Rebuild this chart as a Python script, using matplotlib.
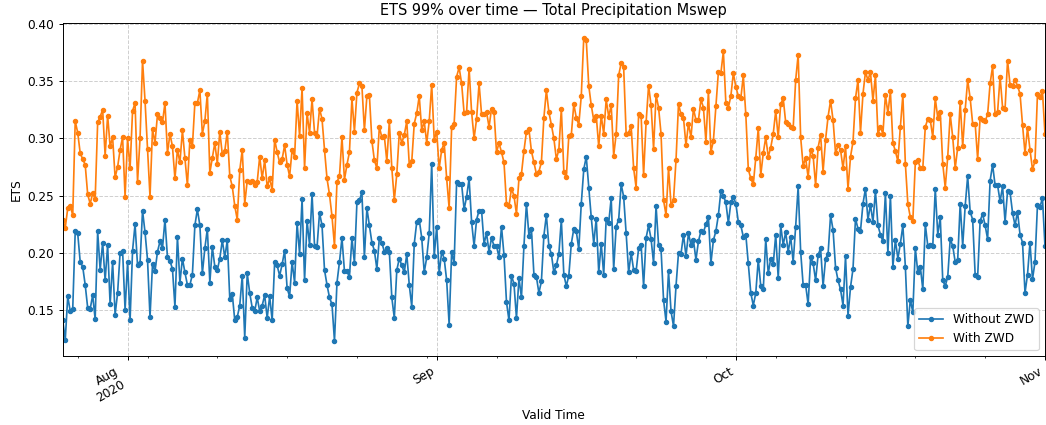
import numpy as np
import pandas as pd
import matplotlib
matplotlib.use("Agg")
import matplotlib.pyplot as plt
import matplotlib.dates as mdates

# 6-hourly valid times, 25 Jul 2020 12Z -> 1 Nov 2020 00Z
start_time = "2020-07-25 12:00"
n_times = 395

month_ticks = ["2020-08-01", "2020-09-01", "2020-10-01", "2020-11-01"]
month_labels = ["Aug\n2020", "Sep", "Oct", "Nov"]

# ETS 99% with ZWD (orange)
ets_with_zwd = [
    0.229, 0.222, 0.239, 0.241, 0.233, 0.315, 0.305, 0.287, 0.282, 0.277,
    0.251, 0.243, 0.252, 0.247, 0.314, 0.319, 0.325, 0.285, 0.320, 0.293,
    0.301, 0.266, 0.275, 0.290, 0.301, 0.249, 0.300, 0.274, 0.324, 0.331,
    0.262, 0.300, 0.368, 0.333, 0.291, 0.249, 0.308, 0.296, 0.321, 0.318,
    0.314, 0.331, 0.287, 0.304, 0.293, 0.265, 0.290, 0.279, 0.307, 0.283,
    0.259, 0.299, 0.293, 0.331, 0.331, 0.342, 0.304, 0.315, 0.339, 0.270,
    0.283, 0.296, 0.278, 0.306, 0.286, 0.289, 0.306, 0.267, 0.258, 0.241,
    0.229, 0.272, 0.290, 0.243, 0.263, 0.262, 0.263, 0.259, 0.262, 0.284,
    0.265, 0.281, 0.258, 0.265, 0.255, 0.299, 0.288, 0.279, 0.282, 0.294,
    0.277, 0.267, 0.290, 0.284, 0.333, 0.302, 0.344, 0.274, 0.322, 0.305,
    0.334, 0.305, 0.302, 0.326, 0.317, 0.290, 0.265, 0.251, 0.232, 0.206,
    0.262, 0.267, 0.301, 0.264, 0.277, 0.288, 0.335, 0.306, 0.340, 0.348,
    0.346, 0.307, 0.337, 0.338, 0.298, 0.281, 0.274, 0.310, 0.301, 0.302,
    0.280, 0.315, 0.274, 0.246, 0.269, 0.305, 0.296, 0.303, 0.315, 0.277,
    0.280, 0.313, 0.322, 0.337, 0.307, 0.315, 0.296, 0.315, 0.347, 0.299,
    0.306, 0.274, 0.290, 0.296, 0.265, 0.239, 0.310, 0.313, 0.354, 0.362,
    0.348, 0.322, 0.323, 0.361, 0.323, 0.300, 0.317, 0.348, 0.321, 0.321,
    0.323, 0.310, 0.326, 0.323, 0.288, 0.296, 0.288, 0.279, 0.243, 0.241,
    0.256, 0.250, 0.234, 0.265, 0.269, 0.289, 0.306, 0.308, 0.289, 0.279,
    0.269, 0.271, 0.279, 0.318, 0.342, 0.323, 0.312, 0.300, 0.282, 0.290,
    0.326, 0.271, 0.266, 0.302, 0.303, 0.330, 0.318, 0.312, 0.337, 0.388,
    0.386, 0.346, 0.329, 0.316, 0.320, 0.293, 0.320, 0.304, 0.334, 0.319,
    0.329, 0.285, 0.304, 0.355, 0.366, 0.362, 0.304, 0.305, 0.311, 0.274,
    0.257, 0.321, 0.320, 0.268, 0.314, 0.346, 0.329, 0.291, 0.338, 0.327,
    0.304, 0.246, 0.233, 0.274, 0.242, 0.246, 0.281, 0.330, 0.321, 0.318,
    0.294, 0.313, 0.301, 0.326, 0.316, 0.316, 0.334, 0.327, 0.297, 0.341,
    0.288, 0.298, 0.328, 0.358, 0.357, 0.376, 0.331, 0.327, 0.337, 0.357,
    0.345, 0.337, 0.335, 0.355, 0.321, 0.273, 0.265, 0.260, 0.283, 0.309,
    0.268, 0.287, 0.301, 0.284, 0.292, 0.304, 0.324, 0.301, 0.330, 0.335,
    0.314, 0.313, 0.310, 0.309, 0.351, 0.373, 0.301, 0.276, 0.283, 0.266,
    0.290, 0.285, 0.259, 0.292, 0.303, 0.271, 0.299, 0.319, 0.333, 0.316,
    0.287, 0.294, 0.290, 0.274, 0.293, 0.256, 0.284, 0.297, 0.335, 0.351,
    0.305, 0.339, 0.358, 0.351, 0.358, 0.333, 0.355, 0.304, 0.310, 0.304,
    0.338, 0.322, 0.341, 0.296, 0.289, 0.280, 0.310, 0.338, 0.278, 0.243,
    0.231, 0.228, 0.279, 0.281, 0.274, 0.274, 0.310, 0.317, 0.316, 0.301,
    0.335, 0.318, 0.323, 0.278, 0.257, 0.284, 0.321, 0.301, 0.274, 0.292,
    0.332, 0.293, 0.325, 0.351, 0.335, 0.313, 0.313, 0.282, 0.318, 0.316,
    0.315, 0.321, 0.348, 0.363, 0.321, 0.323, 0.354, 0.327, 0.326, 0.368,
    0.347, 0.346, 0.351, 0.346, 0.339, 0.312, 0.287, 0.309, 0.290, 0.273,
    0.280, 0.339, 0.336, 0.341, 0.304,
]

# ETS 99% without ZWD (blue)
ets_without_zwd = [
    0.141, 0.124, 0.162, 0.149, 0.151, 0.219, 0.217, 0.192, 0.188, 0.172,
    0.152, 0.151, 0.163, 0.142, 0.219, 0.185, 0.209, 0.176, 0.207, 0.155,
    0.192, 0.146, 0.165, 0.200, 0.202, 0.150, 0.192, 0.141, 0.202, 0.225,
    0.189, 0.191, 0.237, 0.218, 0.194, 0.144, 0.190, 0.184, 0.201, 0.210,
    0.204, 0.229, 0.196, 0.193, 0.186, 0.153, 0.214, 0.174, 0.195, 0.183,
    0.172, 0.172, 0.181, 0.224, 0.238, 0.224, 0.182, 0.204, 0.221, 0.174,
    0.205, 0.188, 0.185, 0.195, 0.211, 0.196, 0.211, 0.160, 0.164, 0.141,
    0.144, 0.154, 0.180, 0.126, 0.182, 0.165, 0.152, 0.149, 0.161, 0.149,
    0.154, 0.163, 0.143, 0.162, 0.141, 0.192, 0.189, 0.180, 0.190, 0.202,
    0.169, 0.162, 0.192, 0.174, 0.226, 0.199, 0.247, 0.176, 0.228, 0.207,
    0.251, 0.206, 0.205, 0.235, 0.224, 0.185, 0.172, 0.161, 0.155, 0.123,
    0.174, 0.192, 0.213, 0.184, 0.184, 0.179, 0.213, 0.191, 0.244, 0.246,
    0.253, 0.196, 0.239, 0.224, 0.209, 0.202, 0.186, 0.213, 0.209, 0.201,
    0.204, 0.201, 0.161, 0.143, 0.185, 0.195, 0.189, 0.183, 0.199, 0.172,
    0.153, 0.208, 0.227, 0.229, 0.213, 0.183, 0.196, 0.217, 0.278, 0.197,
    0.223, 0.182, 0.201, 0.195, 0.176, 0.137, 0.201, 0.191, 0.262, 0.260,
    0.260, 0.238, 0.249, 0.265, 0.227, 0.206, 0.229, 0.237, 0.237, 0.208,
    0.217, 0.201, 0.213, 0.206, 0.206, 0.196, 0.223, 0.198, 0.157, 0.141,
    0.180, 0.173, 0.143, 0.178, 0.161, 0.206, 0.243, 0.215, 0.221, 0.181,
    0.179, 0.165, 0.175, 0.215, 0.233, 0.206, 0.199, 0.183, 0.189, 0.199,
    0.229, 0.181, 0.171, 0.180, 0.208, 0.221, 0.219, 0.203, 0.243, 0.273,
    0.284, 0.257, 0.231, 0.208, 0.230, 0.183, 0.208, 0.181, 0.230, 0.226,
    0.248, 0.186, 0.223, 0.229, 0.260, 0.249, 0.217, 0.183, 0.200, 0.185,
    0.184, 0.204, 0.207, 0.171, 0.213, 0.224, 0.212, 0.191, 0.241, 0.207,
    0.203, 0.159, 0.140, 0.184, 0.149, 0.136, 0.171, 0.200, 0.199, 0.216,
    0.197, 0.217, 0.207, 0.211, 0.194, 0.210, 0.219, 0.218, 0.225, 0.231,
    0.191, 0.211, 0.219, 0.233, 0.254, 0.250, 0.244, 0.226, 0.244, 0.249,
    0.243, 0.227, 0.224, 0.214, 0.216, 0.191, 0.165, 0.154, 0.165, 0.194,
    0.171, 0.168, 0.212, 0.182, 0.195, 0.190, 0.216, 0.178, 0.224, 0.207,
    0.218, 0.201, 0.214, 0.192, 0.223, 0.258, 0.201, 0.172, 0.172, 0.155,
    0.196, 0.191, 0.176, 0.198, 0.204, 0.171, 0.195, 0.199, 0.233, 0.220,
    0.187, 0.176, 0.168, 0.154, 0.197, 0.145, 0.170, 0.186, 0.230, 0.221,
    0.219, 0.243, 0.256, 0.229, 0.242, 0.227, 0.254, 0.224, 0.216, 0.210,
    0.252, 0.200, 0.250, 0.188, 0.211, 0.195, 0.208, 0.224, 0.188, 0.136,
    0.159, 0.148, 0.204, 0.183, 0.188, 0.168, 0.225, 0.206, 0.207, 0.206,
    0.256, 0.216, 0.231, 0.176, 0.171, 0.179, 0.212, 0.206, 0.192, 0.194,
    0.243, 0.206, 0.241, 0.267, 0.236, 0.229, 0.181, 0.179, 0.228, 0.234,
    0.224, 0.212, 0.263, 0.277, 0.259, 0.259, 0.245, 0.258, 0.227, 0.254,
    0.253, 0.235, 0.224, 0.236, 0.216, 0.209, 0.165, 0.181, 0.209, 0.177,
    0.192, 0.242, 0.240, 0.248, 0.206,
]

times = pd.date_range(start_time, periods=n_times, freq="6h")

# reference looks like a default-styled figure rendered at ~87 dpi
DPI = 87
fig = plt.figure(figsize=(1046 / DPI, 425 / DPI), dpi=DPI)
ax = fig.add_axes([0.06, 0.162, 0.939, 0.785])

ax.plot(times, ets_without_zwd, marker="o", markersize=3.5, linewidth=1.4,
        color="tab:blue", label="Without ZWD")
ax.plot(times, ets_with_zwd, marker="o", markersize=3.5, linewidth=1.4,
        color="tab:orange", label="With ZWD")

ax.set_xlim(times[0], times[-1])
ax.set_xticks(pd.to_datetime(month_ticks), month_labels)
ax.xaxis.set_minor_locator(mdates.WeekdayLocator(byweekday=mdates.MO))
plt.setp(ax.get_xticklabels(), rotation=30, ha="right")

ax.grid(True, linestyle="--", alpha=0.6)
ax.set_title("ETS 99% over time — Total Precipitation Mswep")
ax.set_xlabel("Valid Time")
ax.set_ylabel("ETS")
ax.legend(loc="lower right")

fig.savefig("out.png", dpi=DPI)
